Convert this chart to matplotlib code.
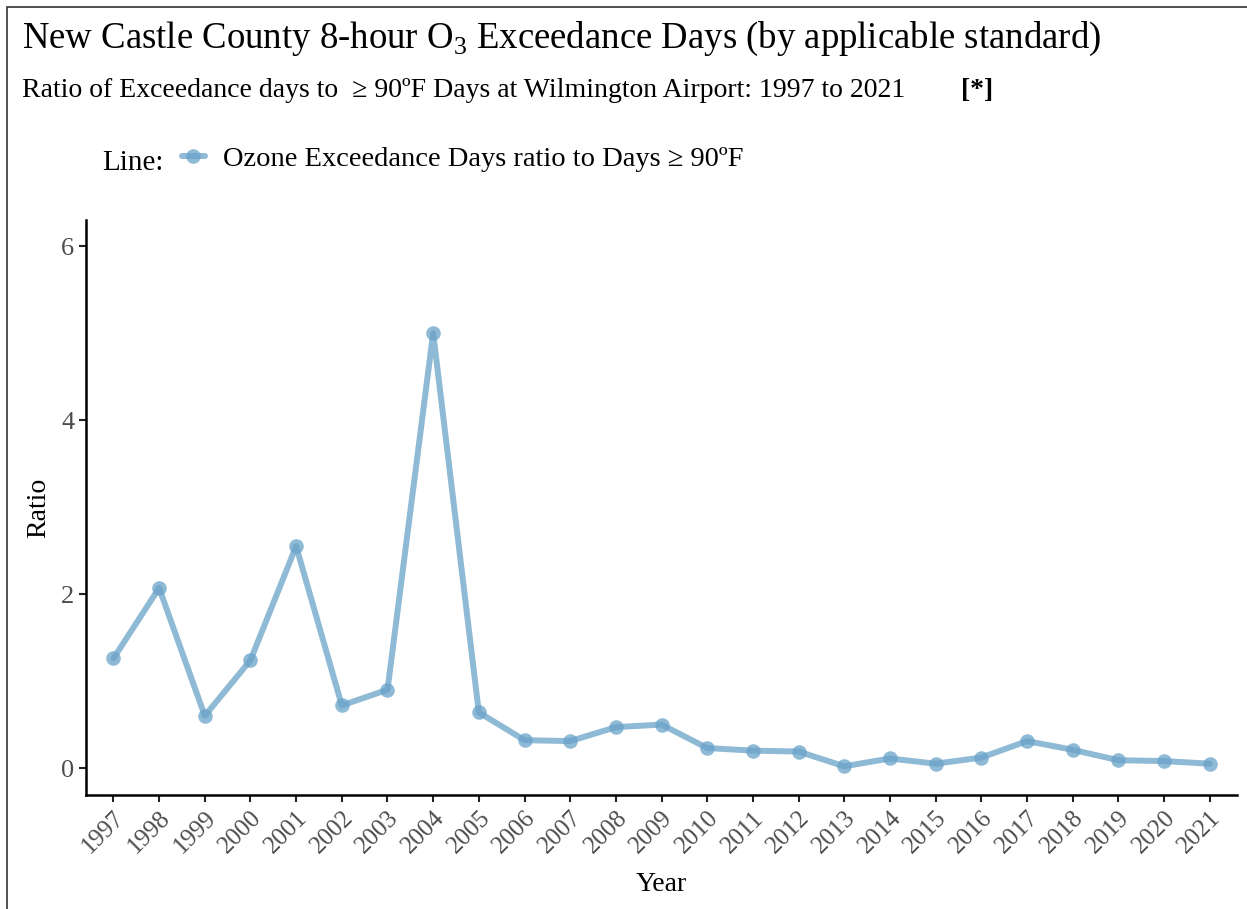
import matplotlib
matplotlib.use("Agg")
import matplotlib.pyplot as plt
from matplotlib.patches import Rectangle

years = list(range(1997, 2022))
ratio = [1.26, 2.07, 0.60, 1.24, 2.55, 0.72, 0.90, 5.00, 0.64, 0.32, 0.31, 0.47,
         0.50, 0.23, 0.20, 0.19, 0.02, 0.11, 0.05, 0.12, 0.31, 0.21, 0.09, 0.08, 0.05]
y_ticks = [0, 2, 4, 6]

title = "New Castle County 8-hour O$_\\mathrm{3}$ Exceedance Days (by applicable standard)"
subtitle = "Ratio of Exceedance days to  \u2265 90\u00baF Days at Wilmington Airport: 1997 to 2021"
series_label = "Ozone Exceedance Days ratio to Days \u2265 90\u00baF"

plt.rcParams['font.family'] = ['Liberation Serif', 'DejaVu Serif']
plt.rcParams['mathtext.fontset'] = 'custom'
plt.rcParams['mathtext.rm'] = 'Liberation Serif'

fig = plt.figure(figsize=(12.47, 9.09), dpi=100)
ax = fig.add_axes([0.069, 0.1254, 0.923, 0.6326])

color = '#6aa3c9'
ax.plot(years, ratio, color=color, alpha=0.75, lw=4.3, solid_capstyle='round',
        marker='o', ms=10.5, mec='none', label=series_label)

ax.set_xlim(1996.4, 2021.6)
ax.set_ylim(-0.31, 6.3)
ax.set_xticks(years)
ax.set_xticklabels([str(y) for y in years], rotation=45, ha='right',
                   rotation_mode='anchor', fontsize=18, color='#4d4d4d')
ax.set_yticks(y_ticks)
ax.set_yticklabels([str(t) for t in y_ticks], fontsize=19, color='#4d4d4d')
ax.tick_params(length=5, width=1.5, color='#222222')
for s in ['top', 'right']:
    ax.spines[s].set_visible(False)
for s in ['left', 'bottom']:
    ax.spines[s].set_linewidth(1.8)
ax.set_xlabel("Year", fontsize=20, labelpad=10)
ax.set_ylabel("Ratio", fontsize=20, labelpad=7)

fig.text(0.018, 0.9472, title, fontsize=26.5, va='baseline')
fig.text(0.018, 0.8933, subtitle, fontsize=20, va='baseline')
fig.text(0.771, 0.8933, "[*]", fontsize=20, fontweight='bold', va='baseline')

fig.text(0.082, 0.813, "Line:", fontsize=21, va='baseline')
fig.legend(loc='center left', bbox_to_anchor=(0.146, 0.825), frameon=False,
           fontsize=20.5, handlelength=0.8, handletextpad=0.65, borderaxespad=0,
           borderpad=0)

fig.patches.append(Rectangle((0.006, -0.01), 1.2, 1.002, transform=fig.transFigure,
                             fill=False, edgecolor='#333333', lw=1.2))

fig.savefig("out.png", dpi=100)
